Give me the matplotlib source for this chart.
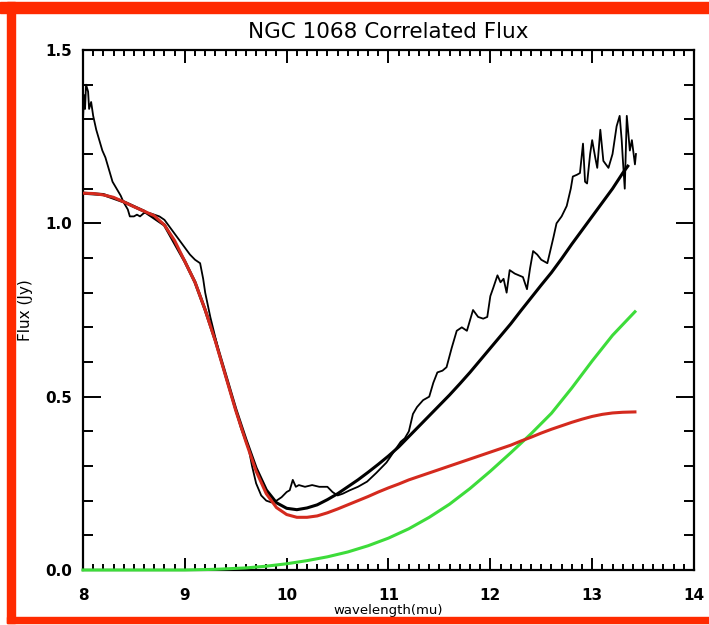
import matplotlib
matplotlib.use("Agg")
import matplotlib.pyplot as plt
from matplotlib.patches import Rectangle
from matplotlib.ticker import MultipleLocator

# measured correlated flux
wl_obs = [8.00, 8.01, 8.02, 8.03, 8.05, 8.06, 8.08, 8.10, 8.13, 8.16, 8.19, 8.22,
          8.25, 8.29, 8.33, 8.37, 8.40, 8.44, 8.46, 8.50, 8.53, 8.56, 8.60, 8.65,
          8.70, 8.75, 8.80, 8.85, 8.90, 8.95, 9.00, 9.05, 9.10, 9.15, 9.18, 9.20,
          9.25, 9.30, 9.35, 9.40, 9.45, 9.50, 9.55, 9.60, 9.63, 9.66, 9.70, 9.75,
          9.80, 9.85, 9.90, 9.95, 10.00, 10.03, 10.06, 10.09, 10.12, 10.18, 10.25,
          10.32, 10.40, 10.45, 10.50, 10.55, 10.62, 10.70, 10.79, 10.88, 10.98,
          11.05, 11.12, 11.16, 11.20, 11.24, 11.28, 11.34, 11.40, 11.44, 11.48,
          11.53, 11.57, 11.62, 11.67, 11.72, 11.77, 11.80, 11.83, 11.88, 11.93,
          11.97, 12.00, 12.03, 12.07, 12.10, 12.13, 12.16, 12.19, 12.24, 12.28,
          12.32, 12.36, 12.39, 12.42, 12.46, 12.50, 12.56, 12.62, 12.65, 12.70,
          12.75, 12.79, 12.81, 12.85, 12.88, 12.91, 12.93, 12.95, 12.98, 13.00,
          13.03, 13.05, 13.08, 13.11, 13.16, 13.20, 13.24, 13.27, 13.29, 13.30,
          13.32, 13.34, 13.37, 13.39, 13.42, 13.43]
flux_obs = [1.30, 1.37, 1.33, 1.40, 1.38, 1.33, 1.35, 1.31, 1.27, 1.24, 1.21, 1.19,
            1.16, 1.12, 1.10, 1.08, 1.06, 1.04, 1.02, 1.02, 1.025, 1.02, 1.03, 1.03,
            1.025, 1.02, 1.01, 0.99, 0.97, 0.95, 0.93, 0.91, 0.895, 0.885, 0.84, 0.80,
            0.73, 0.67, 0.61, 0.56, 0.51, 0.46, 0.41, 0.37, 0.345, 0.30, 0.25, 0.215,
            0.20, 0.195, 0.20, 0.21, 0.225, 0.23, 0.26, 0.24, 0.245, 0.24, 0.245,
            0.24, 0.24, 0.225, 0.215, 0.22, 0.23, 0.24, 0.255, 0.28, 0.31,
            0.34, 0.37, 0.38, 0.40, 0.45, 0.47, 0.49, 0.50, 0.54, 0.57,
            0.575, 0.585, 0.64, 0.69, 0.70, 0.69, 0.72, 0.75, 0.73, 0.725,
            0.73, 0.79, 0.815, 0.85, 0.83, 0.84, 0.80, 0.865, 0.855, 0.85,
            0.845, 0.81, 0.87, 0.92, 0.91, 0.895, 0.885, 0.96, 1.00, 1.02,
            1.05, 1.10, 1.135, 1.14, 1.145, 1.23, 1.12, 1.115, 1.20, 1.24,
            1.19, 1.16, 1.27, 1.18, 1.16, 1.20, 1.28, 1.31, 1.24, 1.19,
            1.10, 1.31, 1.21, 1.24, 1.17, 1.20]

# total model
wl_mod = [8.0, 8.2, 8.4, 8.6, 8.8, 9.0, 9.1, 9.2, 9.3, 9.4, 9.5, 9.6, 9.7, 9.8,
          9.9, 10.0, 10.1, 10.2, 10.3, 10.4, 10.5, 10.6, 10.7, 10.8, 10.9, 11.0,
          11.1, 11.2, 11.3, 11.4, 11.5, 11.6, 11.7, 11.8, 11.9, 12.0, 12.1, 12.2,
          12.3, 12.4, 12.5, 12.6, 12.7, 12.8, 12.9, 13.0, 13.1, 13.2, 13.3, 13.35]
flux_mod = [1.087, 1.083, 1.062, 1.035, 0.995, 0.89, 0.83, 0.75, 0.662, 0.563,
            0.464, 0.376, 0.294, 0.231, 0.194, 0.178, 0.174, 0.179, 0.188, 0.203,
            0.220, 0.240, 0.260, 0.282, 0.305, 0.329, 0.355, 0.385, 0.415, 0.445,
            0.475, 0.505, 0.537, 0.570, 0.605, 0.640, 0.675, 0.710, 0.748, 0.785,
            0.822, 0.858, 0.898, 0.940, 0.980, 1.020, 1.060, 1.100, 1.145, 1.165]

# first component (red)
wl_red = [8.0, 8.1, 8.2, 8.3, 8.4, 8.5, 8.6, 8.7, 8.8, 8.9, 9.0, 9.1, 9.2, 9.3,
          9.4, 9.5, 9.6, 9.7, 9.8, 9.9, 10.0, 10.1, 10.2, 10.3, 10.4, 10.5, 10.6,
          10.7, 10.8, 10.9, 11.0, 11.1, 11.2, 11.3, 11.4, 11.5, 11.6, 11.7, 11.8,
          11.9, 12.0, 12.1, 12.2, 12.3, 12.4, 12.5, 12.6, 12.7, 12.8, 12.9, 13.0,
          13.1, 13.2, 13.3, 13.42]
flux_red = [1.087, 1.086, 1.082, 1.075, 1.062, 1.048, 1.035, 1.022, 0.995, 0.95,
            0.89, 0.83, 0.75, 0.66, 0.56, 0.46, 0.37, 0.285, 0.22, 0.18, 0.16,
            0.152, 0.152, 0.156, 0.165, 0.176, 0.188, 0.20, 0.212, 0.225, 0.237,
            0.248, 0.26, 0.27, 0.28, 0.29, 0.30, 0.31, 0.32, 0.33, 0.34, 0.35,
            0.36, 0.372, 0.383, 0.395, 0.406, 0.416, 0.426, 0.435, 0.443, 0.449,
            0.453, 0.455, 0.456]

# second component (green)
wl_grn = [8.0, 8.5, 9.0, 9.3, 9.6, 9.8, 10.0, 10.2, 10.4, 10.6, 10.8, 11.0, 11.2,
          11.4, 11.6, 11.8, 12.0, 12.2, 12.4, 12.6, 12.8, 13.0, 13.2, 13.42]
flux_grn = [0.0, 0.0, 0.0, 0.002, 0.006, 0.011, 0.018, 0.027, 0.038, 0.052, 0.070,
            0.092, 0.119, 0.152, 0.19, 0.235, 0.285, 0.338, 0.393, 0.452, 0.525,
            0.603, 0.677, 0.745]

x_ticks = [8, 9, 10, 11, 12, 13, 14]
x_labels = ['8', '9', '10', '11', '12', '13', '14']
y_ticks = [0.0, 0.5, 1.0, 1.5]
y_labels = ['0.0', '0.5', '1.0', '1.5']

W, H = 709, 625
fig = plt.figure(figsize=(W / 100, H / 100), dpi=100)
ax = fig.add_axes([83 / W, 1 - 570 / H, (694 - 83) / W, (570 - 50) / H])

ax.plot(wl_obs, flux_obs, color='black', lw=1.3, zorder=2)
ax.plot(wl_mod, flux_mod, color='black', lw=2.2, zorder=3)
ax.plot(wl_grn, flux_grn, color='#3ddc3a', lw=2.2, zorder=4, clip_on=False)
ax.plot(wl_red, flux_red, color='#d42a1e', lw=2.2, zorder=5)

ax.set_xlim(8, 14)
ax.set_ylim(0, 1.5)
ax.set_xticks(x_ticks)
ax.set_xticklabels(x_labels, fontsize=11, fontweight='bold')
ax.set_yticks(y_ticks)
ax.set_yticklabels(y_labels, fontsize=11, fontweight='bold')
ax.xaxis.set_minor_locator(MultipleLocator(0.1))
ax.yaxis.set_minor_locator(MultipleLocator(0.1))
ax.tick_params(which='both', direction='in', top=True, right=True, width=1.4)
ax.tick_params(axis='x', which='major', length=9, pad=13)
ax.tick_params(axis='x', which='minor', length=4)
ax.tick_params(axis='y', which='major', length=13, pad=8)
ax.tick_params(axis='y', which='minor', length=7)
for s in ax.spines.values():
    s.set_linewidth(1.6)

ax.set_title('NGC 1068 Correlated Flux', fontsize=15.5, pad=9)
ax.set_ylabel('Flux (Jy)', fontsize=11)
ax.yaxis.set_label_coords(-50 / 611, 0.5)
ax.set_xlabel('wavelength(mu)', fontsize=9.5)
ax.xaxis.set_label_coords(0.5, -(604 - 570) / 520)

# red frame around the figure
red = '#ff2a00'
for x0, y0, w, h in [(0, 2, W, 11), (7, 2, 8, 621), (7, 617, W - 7, 6)]:
    fig.patches.append(Rectangle((x0 / W, 1 - (y0 + h) / H), w / W, h / H,
                                 transform=fig.transFigure, color=red,
                                 zorder=10))

fig.savefig('out.png', dpi=100)
